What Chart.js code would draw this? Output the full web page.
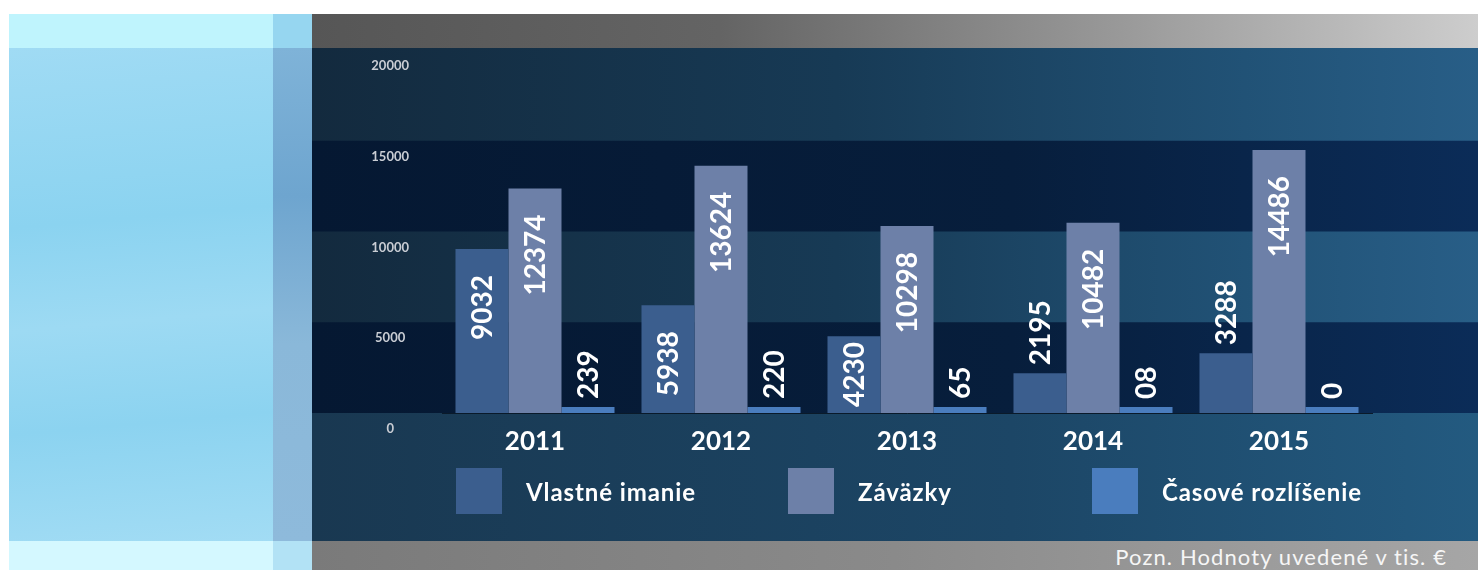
<!DOCTYPE html>
<html>
<head>
<meta charset="utf-8">
<script src="https://cdn.jsdelivr.net/npm/chart.js@4/dist/chart.umd.min.js"></script>
<style>
  html, body { margin: 0; padding: 0; background: #fff; }
  body { width: 1478px; height: 570px; position: relative; overflow: hidden; font-family: Lato, "Open Sans", sans-serif; }
  .blk { position: absolute; }
  #topL { left: 9px; top: 14px; width: 264px; height: 34px; background: #bff4fd; }
  #topM { left: 273px; top: 14px; width: 39px; height: 34px; background: #96d6f0; }
  #topR { left: 312px; top: 14px; width: 1166px; height: 34px; background: linear-gradient(90deg, #565656 0%, #646464 35%, #9a9a9a 70%, #cdcdcd 100%); }
  #midL { left: 9px; top: 48px; width: 264px; height: 493px; background: linear-gradient(175deg, #a0dbf4 0%, #8bd3f0 35%, #9ddaf3 55%, #8cd3f0 75%, #a2dcf4 100%); }
  #midM { left: 273px; top: 48px; width: 39px; height: 493px; background: linear-gradient(180deg, #7fb3d8 0%, #6ea5cf 30%, #8ab8d9 60%, #8ebadb 100%); }
  #botL { left: 9px; top: 541px; width: 264px; height: 29px; background: #d4f8ff; }
  #botM { left: 273px; top: 541px; width: 39px; height: 29px; background: #b2e2f5; }
  #botR { left: 312px; top: 541px; width: 1166px; height: 29px; background: linear-gradient(90deg, #7a7a7a 0%, #8a8a8a 50%, #a6a6a6 100%); }
  #chartBox { left: 312px; top: 48px; width: 1166px; height: 493px; }
  #note { position: absolute; right: 31px; top: 542px; line-height: 29px; font-size: 22px; color: #f6f6f6; letter-spacing: 1.1px; }
  .lg { position: absolute; top: 468px; height: 46px; display: flex; align-items: center; color: #fff; font-weight: bold; font-size: 24px; letter-spacing: 0.9px; }
  .lg span.box { width: 46px; height: 46px; margin-right: 24px; display: inline-block; }
</style>
</head>
<body>
<div class="blk" id="topL"></div>
<div class="blk" id="topM"></div>
<div class="blk" id="topR"></div>
<div class="blk" id="midL"></div>
<div class="blk" id="midM"></div>
<div class="blk" id="botL"></div>
<div class="blk" id="botM"></div>
<div class="blk" id="botR"></div>
<div class="blk" id="chartBox"><canvas id="c" width="1166" height="493"></canvas></div>
<div id="legend"></div>
<div id="note">Pozn. Hodnoty uvedené v tis. €</div>
<script>
// roky a hodnoty (v tis. €)
const years = ['2011', '2012', '2013', '2014', '2015'];
const seriesNames = ['Vlastné imanie', 'Záväzky', 'Časové rozlíšenie'];
const vlastneImanie = [9032, 5938, 4230, 2195, 3288];
const zavazky = [12374, 13624, 10298, 10482, 14486];
const casoveRozlisenie = [239, 220, 65, 8, 0];
// popisky tak, ako sú v grafe
const casoveLabels = ['239', '220', '65', '08', '0'];
const yTicks = [0, 5000, 10000, 15000, 20000];

const colors = ['#3b5e8e', '#6d80a8', '#4a7dbe'];
const legendX = [456, 788, 1092];

// legenda mimo canvasu
const legendEl = document.getElementById('legend');
seriesNames.forEach((name, i) => {
  const d = document.createElement('div');
  d.className = 'lg';
  d.style.left = legendX[i] + 'px';
  d.innerHTML = '<span class="box" style="background:' + colors[i] + '"></span>' + name;
  legendEl.appendChild(d);
});

// pozadie s pásmi
const bandsPlugin = {
  id: 'bands',
  beforeDraw(chart) {
    const { ctx, width, height } = chart;
    const y = chart.scales.y;
    ctx.save();
    let g = ctx.createLinearGradient(0, 0, width, 0);
    g.addColorStop(0, '#132a3e');
    g.addColorStop(0.45, '#173a55');
    g.addColorStop(0.8, '#215276');
    g.addColorStop(1, '#285e87');
    ctx.fillStyle = g;
    ctx.fillRect(0, 0, width, height);
    let g2 = ctx.createLinearGradient(0, 0, width, 0);
    g2.addColorStop(0, '#051832');
    g2.addColorStop(0.6, '#071e3c');
    g2.addColorStop(1, '#0b2c58');
    ctx.fillStyle = g2;
    [[0, 5000], [10000, 15000]].forEach(([a, b]) => {
      const y1 = y.getPixelForValue(b), y0 = y.getPixelForValue(a);
      ctx.fillRect(0, y1, width, y0 - y1);
    });
    // spodná časť pod osou
    let g3 = ctx.createLinearGradient(0, 0, width, 0);
    g3.addColorStop(0, '#193851');
    g3.addColorStop(0.6, '#1c4666');
    g3.addColorStop(1, '#235a80');
    ctx.fillStyle = g3;
    const y0 = y.getPixelForValue(0);
    ctx.fillRect(0, y0, width, height - y0);
    ctx.restore();
  }
};

// popisky hodnôt otočené o 90°
const valueLabels = {
  id: 'valueLabels',
  afterDatasetsDraw(chart) {
    const ctx = chart.ctx;
    ctx.save();
    ctx.font = 'bold 28px Lato, sans-serif';
    ctx.fillStyle = '#ffffff';
    ctx.textBaseline = 'middle';
    chart.data.datasets.forEach((ds, di) => {
      chart.getDatasetMeta(di).data.forEach((el, i) => {
        const txt = ds.labelsText ? ds.labelsText[i] : String(ds.data[i]);
        const w = ctx.measureText(txt).width;
        const h = el.base - el.y;
        ctx.save();
        if (h >= w + 33) {
          ctx.translate(el.x, el.y + 26);
          ctx.rotate(-Math.PI / 2);
          ctx.textAlign = 'right';
        } else if (h >= w + 6) {
          ctx.translate(el.x, el.base - 6);
          ctx.rotate(-Math.PI / 2);
          ctx.textAlign = 'left';
        } else {
          ctx.translate(el.x, el.y - 8);
          ctx.rotate(-Math.PI / 2);
          ctx.textAlign = 'left';
        }
        ctx.fillText(txt, 0, 1);
        ctx.restore();
      });
    });
    ctx.restore();
  }
};

new Chart(document.getElementById('c'), {
  type: 'bar',
  data: {
    labels: years,
    datasets: [
      { label: seriesNames[0], data: vlastneImanie, backgroundColor: colors[0] },
      { label: seriesNames[1], data: zavazky, backgroundColor: colors[1] },
      { label: seriesNames[2], data: casoveRozlisenie, backgroundColor: colors[2], labelsText: casoveLabels, minBarLength: 6 }
    ]
  },
  options: {
    responsive: false,
    animation: false,
    events: [],
    layout: { padding: { left: 22, right: 106, top: 2, bottom: 0 } },
    datasets: { bar: { categoryPercentage: 0.855, barPercentage: 1, borderWidth: 0 } },
    scales: {
      x: {
        grid: { display: false },
        border: { display: true, color: '#0a1a2a', width: 1 },
        ticks: { color: '#ffffff', font: { family: 'Lato', weight: 'bold', size: 26 }, padding: 5 },
        afterFit(s) { s.height = 128; s.paddingLeft = 0; s.paddingRight = 0; }
      },
      y: {
        min: 0, max: 20000,
        afterBuildTicks(s) { s.ticks = yTicks.map(v => ({ value: v })); },
        grid: { display: false, drawTicks: false },
        border: { display: false },
        ticks: {
          color: '#c9cdd4', font: { family: 'Lato', weight: 'bold', size: 13 },
          labelOffset: 16, crossAlign: 'center', padding: 33,
          callback: v => String(v)
        },
        afterFit(s) { s.width = 108; s.paddingTop = 0; s.paddingBottom = 0; }
      }
    },
    plugins: { legend: { display: false }, tooltip: { enabled: false } }
  },
  plugins: [bandsPlugin, valueLabels]
});
</script>
</body>
</html>
